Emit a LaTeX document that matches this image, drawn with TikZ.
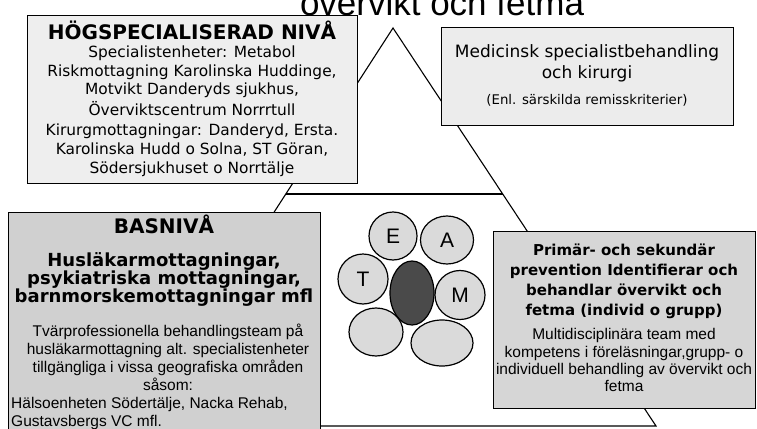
\documentclass[tikz,border=0pt]{standalone}
\usepackage{fontspec}
\setmainfont{DejaVu Sans}
\newfontfamily\arialf{Liberation Sans}
\usetikzlibrary{shapes.geometric}
\definecolor{hoggray}{HTML}{EEEEEE}
\definecolor{medgray}{HTML}{ECECEC}
\definecolor{basgray}{HTML}{D0D0D0}
\definecolor{prigray}{HTML}{D6D6D6}
\definecolor{circgray}{HTML}{DADADA}
\definecolor{darkgray}{HTML}{4A4A4A}
\begin{document}
\begin{tikzpicture}[x=1pt,y=-1pt,
  boxnode/.style={draw=black, line width=1.4pt, inner sep=0pt, anchor=north west},
  ln/.style={inner sep=0pt, anchor=base},
  lnw/.style={inner sep=0pt, anchor=base west},
  tri/.style={line width=1.1pt, line join=miter},
  teamc/.style={ellipse, draw=black, line width=1.2pt, fill=circgray, inner sep=0pt,
    font=\arialf\fontsize{21}{21}\selectfont},
  bigb/.style={font=\bfseries\fontsize{20}{20}\selectfont},
  hogt/.style={font=\fontsize{15.4}{15.4}\selectfont},
  medt/.style={font=\fontsize{17}{17}\selectfont},
  meds/.style={font=\fontsize{13.3}{13.3}\selectfont},
  basb/.style={font=\bfseries\fontsize{18}{18}\selectfont},
  pribt/.style={font=\bfseries\fontsize{15}{15}\selectfont},
  smallar/.style={font=\arialf\fontsize{15.5}{15.5}\selectfont}
]
\useasboundingbox (0,0) rectangle (757,428);
\fill[white] (0,0) rectangle (757,428);

% title (partly cut at the top)
\node[ln, font=\arialf\fontsize{35}{35}\selectfont] (title) at (442,16) {övervikt och fetma};

% triangle
\coordinate (apex) at (393,28);
\coordinate (bl) at (136,426);
\coordinate (br) at (656,426);
\coordinate (ml) at (286,194);
\coordinate (mr) at (503,194);
\draw[tri] (bl) -- (apex) -- (br) -- cycle;
\draw[tri] (ml) -- (mr);

% boxes
\node[boxnode, fill=hoggray, minimum width=330pt, minimum height=168pt] (hog) at (27,15) {};
\node[boxnode, fill=medgray, minimum width=292pt, minimum height=98pt] (med) at (441,27) {};
\node[boxnode, fill=basgray, minimum width=312pt, minimum height=230pt] (bas) at (8,212) {};
\node[boxnode, fill=prigray, minimum width=262pt, minimum height=177pt] (pri) at (493,231) {};

% HÖG text
\node[ln, bigb] (h0) at (192,40) {HÖGSPECIALISERAD NIVÅ};
\node[ln, hogt] (h1) at (192,57) {Specialistenheter: Metabol};
\node[ln, hogt] (h2) at (192,76) {Riskmottagning Karolinska Huddinge,};
\node[ln, hogt] (h3) at (192,94) {Motvikt Danderyds sjukhus,};
\node[ln, hogt] (h4) at (192,115) {Överviktscentrum Norrrtull};
\node[ln, hogt] (h5) at (192,135) {Kirurgmottagningar: Danderyd, Ersta.};
\node[ln, hogt] (h6) at (192,154) {Karolinska Hudd o Solna, ST Göran,};
\node[ln, hogt] (h7) at (192,173) {Södersjukhuset o Norrtälje};

% Medicinsk text
\node[ln, medt] (m1) at (587,58) {Medicinsk specialistbehandling};
\node[ln, medt] (m2) at (587,78) {och kirurgi};
\node[ln, meds] (m3) at (587,104) {(Enl. särskilda remisskriterier)};

% BAS text
\node[ln, bigb] (b0) at (164,233) {BASNIVÅ};
\node[ln, basb] (b1) at (164,266) {Husläkarmottagningar,};
\node[ln, basb] (b2) at (164,284) {psykiatriska mottagningar,};
\node[ln, basb] (b3) at (164,302) {barnmorskemottagningar mfl};
\node[ln, smallar] (b4) at (168,336) {Tvärprofessionella behandlingsteam på};
\node[ln, smallar] (b5) at (168,354) {husläkarmottagning alt. specialistenheter};
\node[ln, smallar] (b6) at (168,372) {tillgängliga i vissa geografiska områden};
\node[ln, smallar] (b7) at (168,390) {såsom:};
\node[lnw, smallar] (b8) at (11,408) {Hälsoenheten Södertälje, Nacka Rehab,};
\node[lnw, smallar] (b9) at (11,426) {Gustavsbergs VC mfl.};

% Primär text
\node[ln, pribt] (p1) at (624,255) {Primär- och sekundär};
\node[ln, pribt] (p2) at (624,275) {prevention Identifierar och};
\node[ln, pribt] (p3) at (624,295) {behandlar övervikt och};
\node[ln, pribt] (p4) at (624,315) {fetma (individ o grupp)};
\node[ln, smallar] (p5) at (624,339) {Multidisciplinära team med};
\node[ln, smallar] (p6) at (624,357) {kompetens i föreläsningar,grupp- o};
\node[ln, smallar] (p7) at (624,374) {individuell behandling av övervikt och};
\node[ln, smallar] (p8) at (624,391) {fetma};

% TEAM circles
\node[teamc, minimum width=48pt, minimum height=48pt] (cE) at (393,236) {E};
\node[teamc, minimum width=53pt, minimum height=48pt] (cA) at (447,240) {A};
\node[teamc, minimum width=50pt, minimum height=50pt] (cT) at (363,279) {T};
\node[teamc, minimum width=50pt, minimum height=49pt] (cM) at (460,295) {M};
\node[teamc, fill=darkgray, minimum width=44pt, minimum height=64pt] (cD) at (412,293) {};
\node[teamc, minimum width=54pt, minimum height=48pt] (cBL) at (376,332) {};
\node[teamc, minimum width=62pt, minimum height=46pt] (cBR) at (442,343) {};
\end{tikzpicture}
\end{document}
